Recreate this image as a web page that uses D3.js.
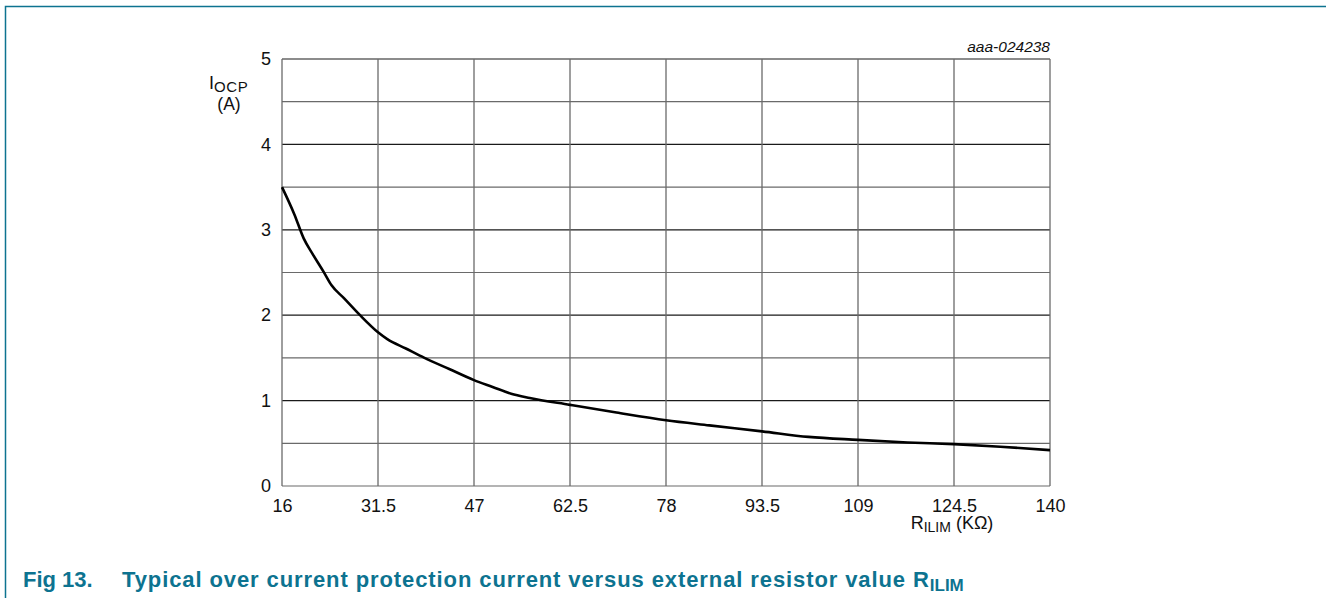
<!DOCTYPE html>
<html>
<head>
<meta charset="utf-8">
<script src="https://cdn.jsdelivr.net/npm/d3@7"></script>
<style>
  html, body { margin: 0; padding: 0; background: #fff; }
  svg { display: block; font-family: "Liberation Sans", Arial, sans-serif; }
</style>
</head>
<body>
<svg id="chart" width="1326" height="598"></svg>
<script>
// ---- data ----
const rIlim = [16, 18, 19.5, 21, 22.7, 24, 26, 28.6, 31.5, 33, 36, 39, 43, 47, 50, 53, 56, 62.5, 70, 78, 85, 93.5, 101, 109, 117, 124.5, 132, 140];
const iOcp  = [3.5, 3.18, 2.9, 2.71, 2.51, 2.35, 2.2, 2.0, 1.8, 1.72, 1.61, 1.5, 1.37, 1.24, 1.16, 1.08, 1.03, 0.95, 0.86, 0.77, 0.71, 0.64, 0.575, 0.54, 0.51, 0.49, 0.46, 0.42];
const xTicks = [16, 31.5, 47, 62.5, 78, 93.5, 109, 124.5, 140];
const yTicks = [0, 1, 2, 3, 4, 5];
const yGrid  = [0, 0.5, 1, 1.5, 2, 2.5, 3, 3.5, 4, 4.5, 5];

const svg = d3.select("#chart");
const teal = "#0d7390";
const FONT = "Liberation Sans, Arial, sans-serif";

// frame
svg.append("path")
  .attr("d", "M5.5,598 L5.5,6.5 L1326,6.5")
  .attr("fill", "none").attr("stroke", teal).attr("stroke-width", 1.5);

const x = d3.scaleLinear().domain([16, 140]).range([282, 1050]);
const y = d3.scaleLinear().domain([0, 5]).range([486, 59]);

// grid
const g = svg.append("g");
g.selectAll("line.h").data(yGrid).join("line")
  .attr("x1", x(16)).attr("x2", x(140))
  .attr("y1", d => y(d)).attr("y2", d => y(d))
  .attr("stroke", d => Number.isInteger(d) && d !== 0 ? "#1a1a1a" : "#6a6a6a")
  .attr("stroke-width", 1.2);
g.selectAll("line.v").data(xTicks).join("line")
  .attr("y1", y(0)).attr("y2", y(5))
  .attr("x1", d => x(d)).attr("x2", d => x(d))
  .attr("stroke", "#6a6a6a").attr("stroke-width", 1.3);

// axes labels
const yAxis = svg.append("g").attr("transform", `translate(${x(16) - 11},0)`)
  .call(d3.axisLeft(y).tickValues(yTicks).tickSize(0).tickPadding(0).tickFormat(d3.format("d")));
yAxis.select(".domain").remove();
yAxis.selectAll("text").attr("font-size", 18).attr("fill", "#111").attr("font-family", FONT);

const xAxis = svg.append("g").attr("transform", `translate(0,${y(0) + 13})`)
  .call(d3.axisBottom(x).tickValues(xTicks).tickSize(0).tickPadding(0).tickFormat(d => String(d)));
xAxis.select(".domain").remove();
xAxis.selectAll("text").attr("font-size", 18).attr("fill", "#111").attr("font-family", FONT);

// curve
const line = d3.line().x((d, i) => x(rIlim[i])).y(d => y(d)).curve(d3.curveMonotoneX);
svg.append("path").datum(iOcp)
  .attr("d", line)
  .attr("fill", "none").attr("stroke", "#000").attr("stroke-width", 2.6)
  .attr("stroke-linejoin", "round");

// y title
const yt = svg.append("text").attr("x", 209).attr("y", 89.3).attr("font-size", 18).attr("fill", "#111");
yt.append("tspan").text("I");
yt.append("tspan").attr("dy", 3).attr("font-size", 15).attr("letter-spacing", 0.6).text("OCP");
svg.append("text").attr("x", 229).attr("y", 110).attr("text-anchor", "middle")
  .attr("font-size", 17.5).attr("fill", "#111").text("(A)");

// x title
const xt = svg.append("text").attr("x", 952).attr("y", 529).attr("text-anchor", "middle")
  .attr("font-size", 18).attr("fill", "#111");
xt.append("tspan").text("R");
xt.append("tspan").attr("dy", 3).attr("font-size", 14).text("ILIM");
xt.append("tspan").attr("dy", -3).text(" (KΩ)");

// figure code
svg.append("text").attr("x", 1050).attr("y", 52).attr("text-anchor", "end")
  .attr("font-size", 15.5).attr("font-style", "italic").attr("fill", "#111").text("aaa-024238");

// caption
const cap = svg.append("text").attr("y", 587).attr("font-size", 22).attr("font-weight", "bold")
  .attr("fill", teal);
cap.append("tspan").attr("x", 23).text("Fig 13.");
cap.append("tspan").attr("x", 122).attr("letter-spacing", 0.9)
  .text("Typical over current protection current versus external resistor value R");
cap.append("tspan").attr("dy", 4).attr("font-size", 17).text("ILIM");
</script>
</body>
</html>
